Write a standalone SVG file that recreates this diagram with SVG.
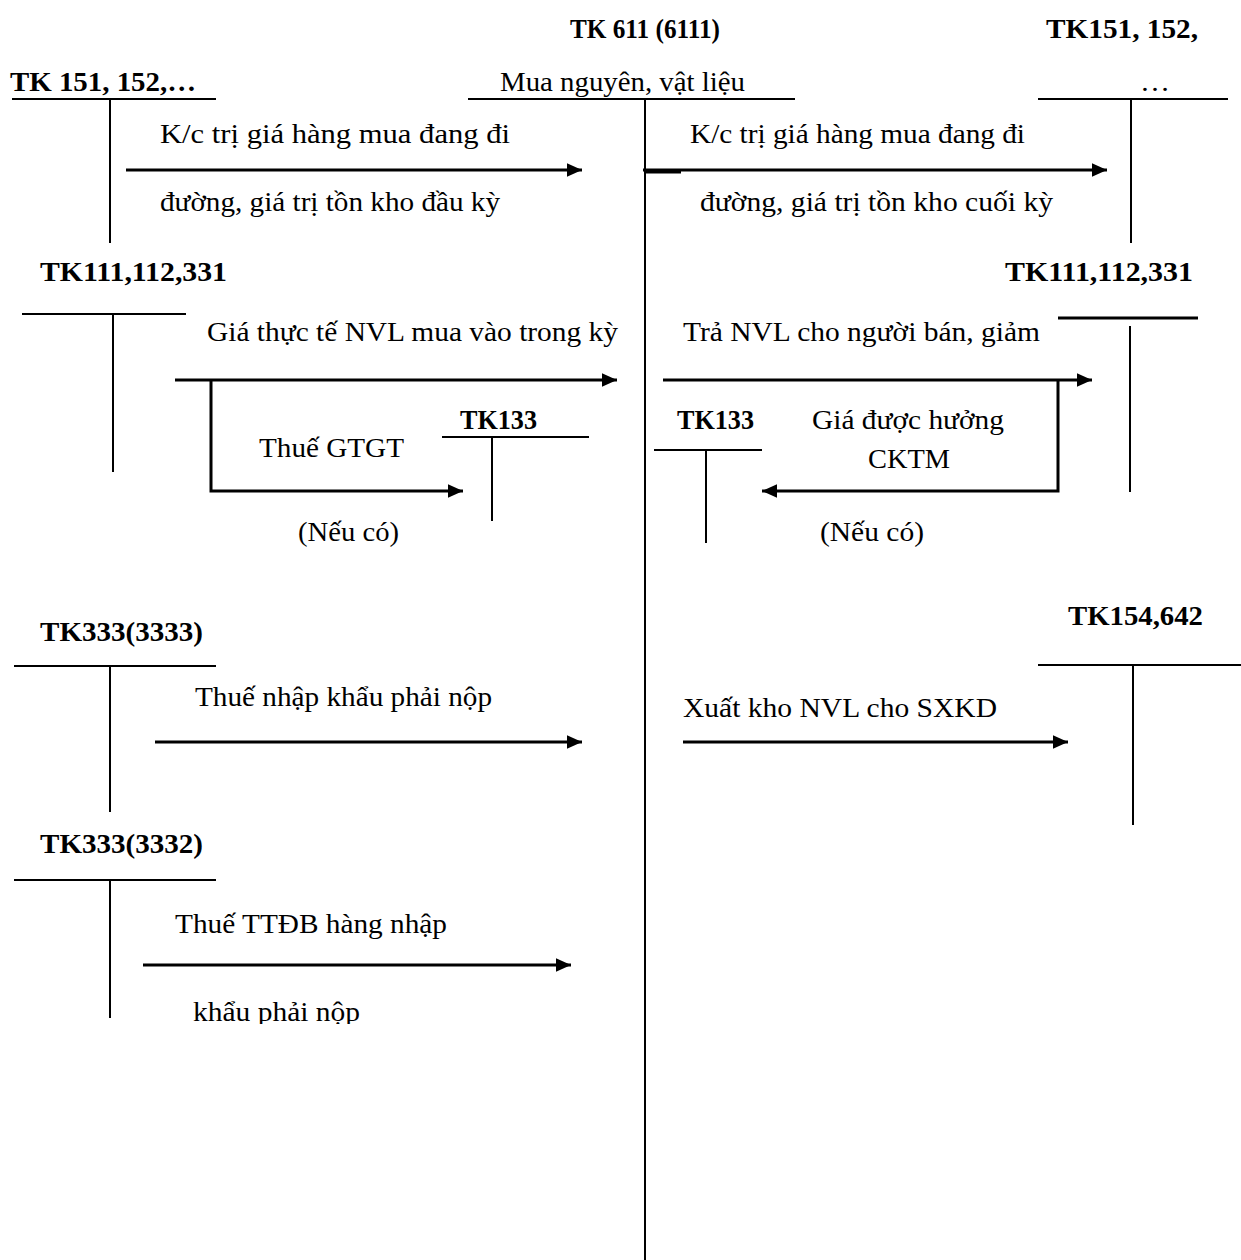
<svg xmlns="http://www.w3.org/2000/svg" width="1241" height="1260" viewBox="0 0 1241 1260">
  <style>
    .t { font-family: "Liberation Serif", "Times New Roman", serif; font-size: 28px; fill: #000; }
    .b { font-family: "Liberation Serif", "Times New Roman", serif; font-size: 27px; font-weight: bold; fill: #000; }
    .acc { stroke: #000; stroke-width: 2; fill: none; }
    .flow { stroke: #000; stroke-width: 3; fill: none; }
  </style>
  <defs>
    <marker id="arrow" viewBox="0 0 10 10" refX="10" refY="5" markerWidth="5" markerHeight="4.5" orient="auto" markerUnits="strokeWidth" preserveAspectRatio="none">
      <path d="M0,0 L10,5 L0,10 z" fill="#000"/>
    </marker>
    <clipPath id="cut">
      <rect x="0" y="0" width="1241" height="1024"/>
    </clipPath>
  </defs>
  <rect width="1241" height="1260" fill="#fff"/>

  <!-- central account TK 611 -->
  <g id="tk611">
    <text class="b" x="570" y="38" textLength="150" lengthAdjust="spacingAndGlyphs">TK 611 (6111)</text>
    <text class="t" x="500" y="91" textLength="245" lengthAdjust="spacingAndGlyphs">Mua nguyên, vật liệu</text>
    <line class="acc" x1="468" y1="99" x2="795" y2="99"/>
    <line class="acc" x1="645" y1="99" x2="645" y2="1260"/>
  </g>

  <!-- TK 151, 152 (left) -->
  <g id="tk151-left">
    <text class="b" x="10" y="91" textLength="186" lengthAdjust="spacingAndGlyphs">TK 151, 152,…</text>
    <line class="acc" x1="12" y1="99" x2="216" y2="99"/>
    <line class="acc" x1="110" y1="99" x2="110" y2="243"/>
  </g>

  <!-- TK 151, 152 (right) -->
  <g id="tk151-right">
    <text class="b" x="1046" y="38" textLength="152" lengthAdjust="spacingAndGlyphs">TK151, 152,</text>
    <text class="t" x="1140" y="91" textLength="30" lengthAdjust="spacingAndGlyphs">…</text>
    <line class="acc" x1="1038" y1="99" x2="1228" y2="99"/>
    <line class="acc" x1="1131" y1="99" x2="1131" y2="243"/>
  </g>

  <!-- TK 111,112,331 (left) -->
  <g id="tk111-left">
    <text class="b" x="40" y="281" textLength="187" lengthAdjust="spacingAndGlyphs">TK111,112,331</text>
    <line class="acc" x1="22" y1="314" x2="186" y2="314"/>
    <line class="acc" x1="113" y1="314" x2="113" y2="472"/>
  </g>

  <!-- TK 133 (left) -->
  <g id="tk133-left">
    <text class="b" x="460" y="429" textLength="77" lengthAdjust="spacingAndGlyphs">TK133</text>
    <line class="acc" x1="442" y1="437" x2="589" y2="437"/>
    <line class="acc" x1="492" y1="437" x2="492" y2="521"/>
  </g>

  <!-- TK 111,112,331 (right) -->
  <g id="tk111-right">
    <text class="b" x="1005" y="281" textLength="188" lengthAdjust="spacingAndGlyphs">TK111,112,331</text>
    <line class="flow" x1="1058" y1="318" x2="1198" y2="318"/>
    <line class="acc" x1="1130" y1="326" x2="1130" y2="492"/>
  </g>

  <!-- TK 133 (right) -->
  <g id="tk133-right">
    <text class="b" x="677" y="429" textLength="77" lengthAdjust="spacingAndGlyphs">TK133</text>
    <line class="acc" x1="654" y1="450" x2="762" y2="450"/>
    <line class="acc" x1="706" y1="450" x2="706" y2="543"/>
  </g>

  <!-- TK 333 (3333) -->
  <g id="tk3333">
    <text class="b" x="40" y="641" textLength="163" lengthAdjust="spacingAndGlyphs">TK333(3333)</text>
    <line class="acc" x1="14" y1="666" x2="216" y2="666"/>
    <line class="acc" x1="110" y1="666" x2="110" y2="812"/>
  </g>

  <!-- TK 154, 642 -->
  <g id="tk154">
    <text class="b" x="1068" y="625" textLength="135" lengthAdjust="spacingAndGlyphs">TK154,642</text>
    <line class="acc" x1="1038" y1="665" x2="1241" y2="665"/>
    <line class="acc" x1="1133" y1="665" x2="1133" y2="825"/>
  </g>

  <!-- TK 333 (3332) -->
  <g id="tk3332">
    <text class="b" x="40" y="853" textLength="163" lengthAdjust="spacingAndGlyphs">TK333(3332)</text>
    <line class="acc" x1="14" y1="880" x2="216" y2="880"/>
    <line class="acc" x1="110" y1="880" x2="110" y2="1018"/>
  </g>

  <!-- entries between accounts -->
  <g id="connectors">
    <line class="flow" x1="126" y1="170" x2="582" y2="170" marker-end="url(#arrow)"/>
    <line class="flow" x1="643" y1="170" x2="1107" y2="170" marker-end="url(#arrow)"/>
    <line class="flow" x1="645" y1="172" x2="681" y2="172"/>

    <line class="flow" x1="175" y1="380" x2="617" y2="380" marker-end="url(#arrow)"/>
    <polyline class="flow" points="211,380 211,491 463,491" marker-end="url(#arrow)"/>

    <line class="flow" x1="663" y1="380" x2="1092" y2="380" marker-end="url(#arrow)"/>
    <polyline class="flow" points="1058,380 1058,491 762,491" marker-end="url(#arrow)"/>

    <line class="flow" x1="155" y1="742" x2="582" y2="742" marker-end="url(#arrow)"/>
    <line class="flow" x1="683" y1="742" x2="1068" y2="742" marker-end="url(#arrow)"/>
    <line class="flow" x1="143" y1="965" x2="571" y2="965" marker-end="url(#arrow)"/>
  </g>

  <!-- entry labels -->
  <g id="labels">
    <text class="t" x="160" y="143" textLength="350" lengthAdjust="spacingAndGlyphs">K/c trị giá hàng mua đang đi</text>
    <text class="t" x="160" y="211" textLength="340" lengthAdjust="spacingAndGlyphs">đường, giá trị tồn kho đầu kỳ</text>
    <text class="t" x="690" y="143" textLength="335" lengthAdjust="spacingAndGlyphs">K/c trị giá hàng mua đang đi</text>
    <text class="t" x="700" y="211" textLength="353" lengthAdjust="spacingAndGlyphs">đường, giá trị tồn kho cuối kỳ</text>

    <text class="t" x="207" y="341" textLength="411" lengthAdjust="spacingAndGlyphs">Giá thực tế NVL mua vào trong kỳ</text>
    <text class="t" x="259" y="457" textLength="145" lengthAdjust="spacingAndGlyphs">Thuế GTGT</text>
    <text class="t" x="298" y="541" textLength="101" lengthAdjust="spacingAndGlyphs">(Nếu có)</text>

    <text class="t" x="683" y="341" textLength="357" lengthAdjust="spacingAndGlyphs">Trả NVL cho người bán, giảm</text>
    <text class="t" x="812" y="429" textLength="192" lengthAdjust="spacingAndGlyphs">Giá được hưởng</text>
    <text class="t" x="868" y="468" textLength="82" lengthAdjust="spacingAndGlyphs">CKTM</text>
    <text class="t" x="820" y="541" textLength="104" lengthAdjust="spacingAndGlyphs">(Nếu có)</text>

    <text class="t" x="195" y="706" textLength="297" lengthAdjust="spacingAndGlyphs">Thuế nhập khẩu phải nộp</text>
    <text class="t" x="683" y="717" textLength="314" lengthAdjust="spacingAndGlyphs">Xuất kho NVL cho SXKD</text>
    <text class="t" x="175" y="933" textLength="272" lengthAdjust="spacingAndGlyphs">Thuế TTĐB hàng nhập</text>
    <text class="t" x="193" y="1021" textLength="167" lengthAdjust="spacingAndGlyphs" clip-path="url(#cut)">khẩu phải nộp</text>
  </g>
</svg>
